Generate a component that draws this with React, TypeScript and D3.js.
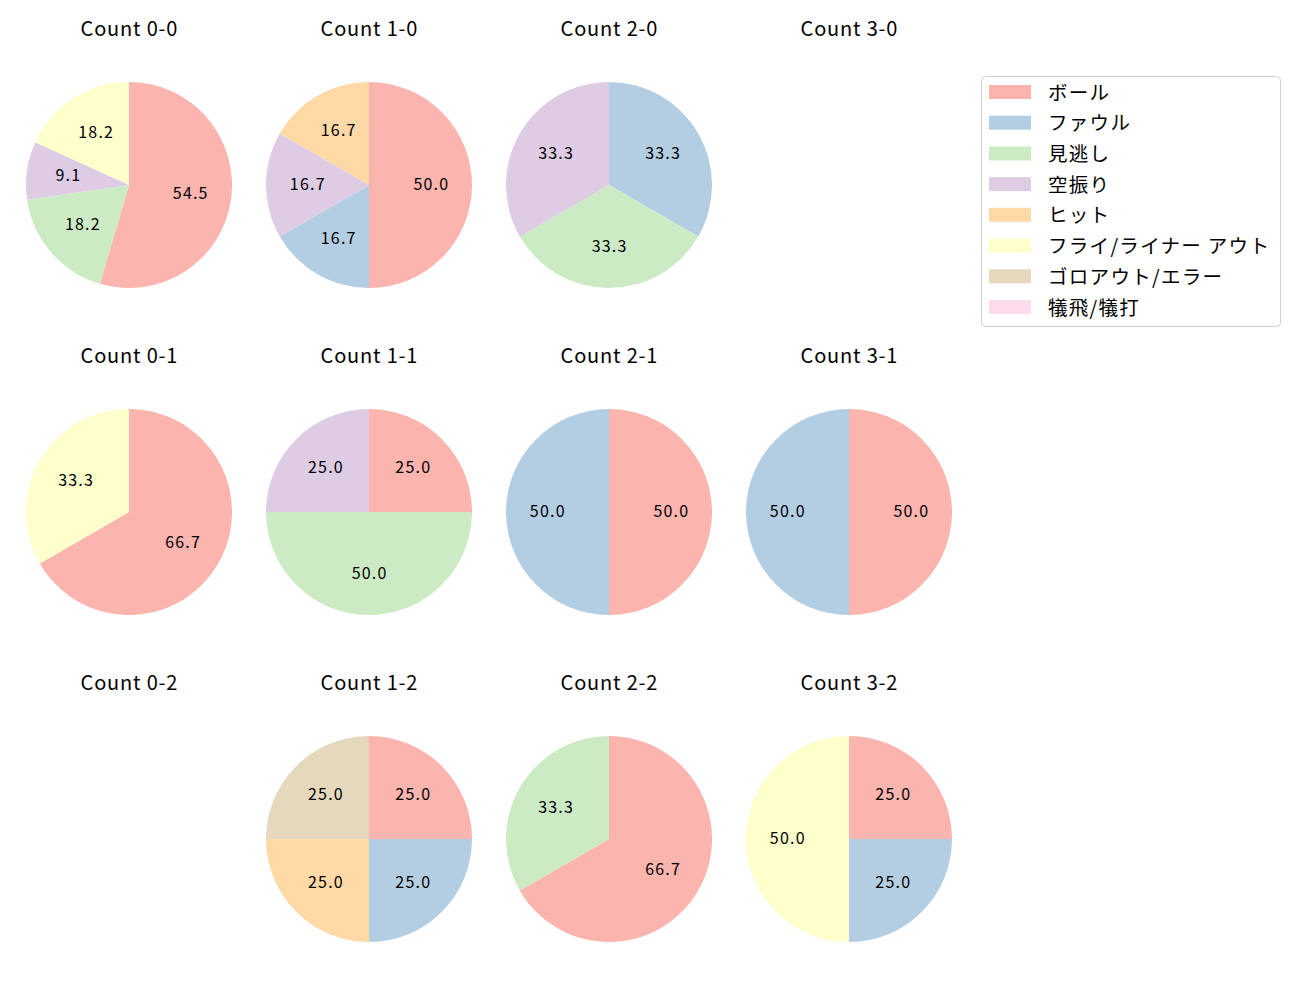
import React from "react";
import * as d3 from "d3";

const categories = ["ボール", "ファウル", "見逃し", "空振り", "ヒット", "フライ/ライナー アウト", "ゴロアウト/エラー", "犠飛/犠打"];
const colors = ["#fbb4ae", "#b3cde3", "#ccebc5", "#decbe4", "#fed9a6", "#ffffcc", "#e5d8bd", "#fddaec"];

const titles = [
  ["Count 0-0", "Count 1-0", "Count 2-0", "Count 3-0"],
  ["Count 0-1", "Count 1-1", "Count 2-1", "Count 3-1"],
  ["Count 0-2", "Count 1-2", "Count 2-2", "Count 3-2"],
];

// counts per category, in category order
const values: number[][][] = [
  [
    [6, 0, 2, 1, 0, 2, 0, 0],
    [3, 1, 0, 1, 1, 0, 0, 0],
    [0, 1, 1, 1, 0, 0, 0, 0],
    [0, 0, 0, 0, 0, 0, 0, 0],
  ],
  [
    [2, 0, 0, 0, 0, 1, 0, 0],
    [1, 0, 2, 1, 0, 0, 0, 0],
    [1, 1, 0, 0, 0, 0, 0, 0],
    [1, 1, 0, 0, 0, 0, 0, 0],
  ],
  [
    [0, 0, 0, 0, 0, 0, 0, 0],
    [1, 1, 0, 0, 1, 0, 1, 0],
    [2, 0, 1, 0, 0, 0, 0, 0],
    [1, 1, 0, 0, 0, 2, 0, 0],
  ],
];

const FONT = "'Noto Sans CJK JP', 'Noto Sans', sans-serif";

const colX = d3.scalePoint<number>().domain([0, 1, 2, 3]).range([129, 849]);
const rowY = d3.scalePoint<number>().domain([0, 1, 2]).range([185, 839]);
const R = 103;

function Pie({ vals, cx, cy, title }: { vals: number[]; cx: number; cy: number; title: string }) {
  const total = d3.sum(vals);
  const data = vals.map((v, i) => ({ v, i })).filter((d) => d.v > 0);
  const pie = d3.pie<{ v: number; i: number }>().value((d) => d.v).sort(null);
  const arcs = total > 0 ? pie(data) : [];
  const arc = d3.arc<d3.PieArcDatum<{ v: number; i: number }>>().innerRadius(0).outerRadius(R);
  const labelArc = d3.arc<d3.PieArcDatum<{ v: number; i: number }>>().innerRadius(R * 0.6).outerRadius(R * 0.6);
  return (
    <g>
      <text x={cx + 0.4} y={cy - 149} textAnchor="middle" fontSize={20} letterSpacing={0.8} fontFamily={FONT} fill="#000">
        {title}
      </text>
      <g transform={`translate(${cx},${cy})`}>
        {arcs.map((a) => (
          <path key={a.data.i} d={arc(a) || ""} fill={colors[a.data.i]} />
        ))}
        {arcs.map((a) => {
          const [lx, ly] = labelArc.centroid(a);
          return (
            <text key={"t" + a.data.i} x={lx + 0.6} y={ly - 2} textAnchor="middle" dominantBaseline="central" fontSize={16} letterSpacing={1.2} fontFamily={FONT} fill="#000">
              {((a.data.v / total) * 100).toFixed(1)}
            </text>
          );
        })}
      </g>
    </g>
  );
}

export default function App() {
  const legendY = d3.scaleLinear().domain([0, 7]).range([91, 306]);
  return (
    <svg width={1300} height={1000} style={{ display: "block", margin: "-8px" }}>
      <rect width={1300} height={1000} fill="#fff" />
      {titles.map((row, r) =>
        row.map((t, c) => <Pie key={t} vals={values[r][c]} cx={colX(c)!} cy={rowY(r)!} title={t} />)
      )}
      <rect x={981.5} y={76.5} width={299} height={250} rx={4} fill="#fff" stroke="#d0d0d0" />
      {categories.map((name, i) => (
        <g key={name}>
          <rect x={989} y={legendY(i) - 6} width={42} height={14} fill={colors[i]} />
          <text x={1048} y={legendY(i)} dominantBaseline="central" fontSize={19.5} letterSpacing={1.3} fontFamily={FONT} fill="#000">
            {name}
          </text>
        </g>
      ))}
    </svg>
  );
}
